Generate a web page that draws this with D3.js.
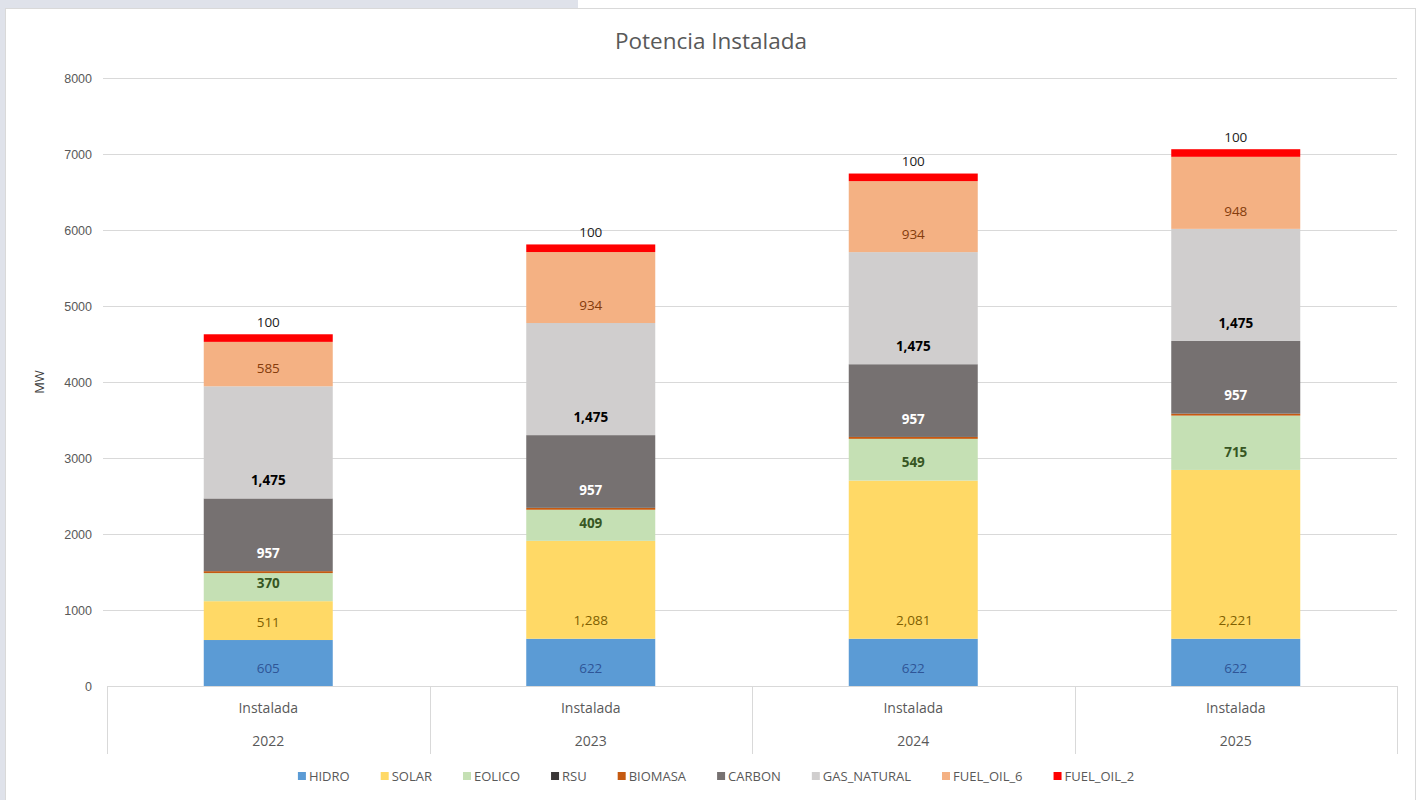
<!DOCTYPE html>
<html>
<head>
<meta charset="utf-8">
<script src="https://cdn.jsdelivr.net/npm/d3@7"></script>
<style>
  body { margin: 0; background: #ffffff; }
  svg { display: block; font-family: "Open Sans", Lato, sans-serif; }
</style>
</head>
<body>
<script>
// datos
const anios = ["2022", "2023", "2024", "2025"];
const nivel1 = ["Instalada", "Instalada", "Instalada", "Instalada"];
const series = ["HIDRO", "SOLAR", "EOLICO", "RSU", "BIOMASA", "CARBON", "GAS_NATURAL", "FUEL_OIL_6", "FUEL_OIL_2"];
const hidro = [605, 622, 622, 622];
const solar = [511, 1288, 2081, 2221];
const eolico = [370, 409, 549, 715];
const rsu = [0, 0, 0, 0];
const biomasa = [25, 25, 25, 25];
const carbon = [957, 957, 957, 957];
const gasNatural = [1475, 1475, 1475, 1475];
const fuelOil6 = [585, 934, 934, 948];
const fuelOil2 = [100, 100, 100, 100];
const yTicks = [0, 1000, 2000, 3000, 4000, 5000, 6000, 7000, 8000];

const valores = [hidro, solar, eolico, rsu, biomasa, carbon, gasNatural, fuelOil6, fuelOil2];

const colores = {
  HIDRO: "#5b9bd5", SOLAR: "#ffd966", EOLICO: "#c5e0b4", RSU: "#3b3838",
  BIOMASA: "#c55a11", CARBON: "#767171", GAS_NATURAL: "#d0cece",
  FUEL_OIL_6: "#f4b183", FUEL_OIL_2: "#ff0000"
};
// estilo de etiquetas (null = sin etiqueta)
const etiquetas = {
  HIDRO: { color: "#2f5597", bold: false },
  SOLAR: { color: "#806000", bold: false },
  EOLICO: { color: "#375623", bold: true },
  RSU: null, BIOMASA: null,
  CARBON: { color: "#ffffff", bold: true },
  GAS_NATURAL: { color: "#000000", bold: true },
  FUEL_OIL_6: { color: "#843c0c", bold: false },
  FUEL_OIL_2: { color: "#222222", bold: false, arriba: true }
};

const width = 1419, height = 800;
const margin = { top: 78, bottom: 114, left: 107, right: 22 };

const svg = d3.select("body").append("svg")
  .attr("width", width).attr("height", height);

// fondo de la pagina
svg.append("rect").attr("width", width).attr("height", height).attr("fill", "#ffffff");
svg.append("rect").attr("x", 0).attr("y", 0).attr("width", 578).attr("height", 8).attr("fill", "#dfe2ea");
svg.append("rect").attr("x", 0).attr("y", 0).attr("width", 5).attr("height", height).attr("fill", "#dfe2ea");
svg.append("rect").attr("x", 5.5).attr("y", 8.5).attr("width", 1410).attr("height", 800)
  .attr("fill", "#ffffff").attr("stroke", "#d9d9d9");

// tabla para d3.stack
const tabla = anios.map((a, i) => {
  const fila = { anio: a };
  series.forEach((s, j) => fila[s] = valores[j][i]);
  return fila;
});
const pila = d3.stack().keys(series)(tabla);

const x = d3.scaleBand().domain(anios)
  .range([margin.left, width - margin.right]).paddingInner(0).paddingOuter(0);
const barW = x.bandwidth() * 0.4;
const y = d3.scaleLinear().domain([0, 8000]).range([height - margin.bottom, margin.top]);

// cuadricula
svg.append("g").selectAll("line").data(yTicks.slice(1)).join("line")
  .attr("x1", margin.left - 4).attr("x2", width - margin.right)
  .attr("y1", d => Math.round(y(d)) + 0.5).attr("y2", d => Math.round(y(d)) + 0.5)
  .attr("stroke", "#d9d9d9");

// eje Y
const ejeY = d3.axisLeft(y).tickValues(yTicks).tickSize(0).tickPadding(14).tickFormat(d3.format("d"));
const gY = svg.append("g").attr("transform", "translate(" + (margin.left - 1) + ",0)").call(ejeY);
gY.select(".domain").remove();
gY.selectAll("text").attr("fill", "#595959").style("font-size", "12.5px");

svg.append("text")
  .attr("transform", "translate(44," + y(4000) + ") rotate(-90)")
  .attr("text-anchor", "middle").attr("fill", "#404040").style("font-size", "13px")
  .text("MW");

// barras apiladas
const gBarras = svg.append("g");
pila.forEach(capa => {
  gBarras.selectAll(null).data(capa).join("rect")
    .attr("x", d => x(d.data.anio) + (x.bandwidth() - barW) / 2)
    .attr("width", barW)
    .attr("y", d => y(d[1]))
    .attr("height", d => y(d[0]) - y(d[1]))
    .attr("fill", colores[capa.key]);
});

// etiquetas de datos
const fmt = d3.format(",");
pila.forEach(capa => {
  const est = etiquetas[capa.key];
  if (!est) return;
  svg.append("g").selectAll("text").data(capa).join("text")
    .attr("x", d => x(d.data.anio) + x.bandwidth() / 2)
    .attr("y", d => est.arriba ? y(d[1]) - 12 : y(d[0]) - 18)
    .attr("dy", "0.35em")
    .attr("text-anchor", "middle")
    .attr("fill", est.color)
    .style("font-size", "13.5px")
    .style("font-weight", est.bold ? "bold" : "normal")
    .text(d => fmt(d[1] - d[0]));
});

// eje X multinivel
const y0 = y(0);
svg.append("line").attr("x1", margin.left).attr("x2", width - margin.right)
  .attr("y1", Math.round(y0) + 0.5).attr("y2", Math.round(y0) + 0.5).attr("stroke", "#d9d9d9");
const bordes = anios.map(a => x(a)).concat([x(anios[anios.length - 1]) + x.bandwidth()]);
svg.append("g").selectAll("line").data(bordes).join("line")
  .attr("x1", d => Math.round(d) + 0.5).attr("x2", d => Math.round(d) + 0.5)
  .attr("y1", y0).attr("y2", y0 + 68).attr("stroke", "#d9d9d9");
svg.append("g").selectAll("text").data(anios).join("text")
  .attr("x", d => x(d) + x.bandwidth() / 2).attr("y", y0 + 22)
  .attr("dy", "0.35em").attr("text-anchor", "middle")
  .attr("fill", "#595959").style("font-size", "14px")
  .text((d, i) => nivel1[i]);
svg.append("g").selectAll("text").data(anios).join("text")
  .attr("x", d => x(d) + x.bandwidth() / 2).attr("y", y0 + 55)
  .attr("dy", "0.35em").attr("text-anchor", "middle")
  .attr("fill", "#595959").style("font-size", "14px")
  .text(d => d);

// titulo
svg.append("text").attr("x", 711).attr("y", 41).attr("dy", "0.35em")
  .attr("text-anchor", "middle").attr("fill", "#595959").style("font-size", "22.5px")
  .text("Potencia Instalada");

// leyenda
const gLey = svg.append("g");
const hueco = 31;
let cursor = 0;
series.forEach(s => {
  const g = gLey.append("g");
  g.append("rect").attr("x", 0).attr("y", -4).attr("width", 8).attr("height", 8).attr("fill", colores[s]);
  const t = g.append("text").attr("x", 11).attr("dy", "0.35em")
    .attr("fill", "#595959").style("font-size", "13px").text(s);
  const w = 11 + t.node().getComputedTextLength();
  g.attr("transform", "translate(" + cursor + ",0)");
  cursor += w + hueco;
});
const anchoLey = cursor - hueco;
gLey.attr("transform", "translate(" + (716 - anchoLey / 2) + ",776)");
</script>
</body>
</html>
